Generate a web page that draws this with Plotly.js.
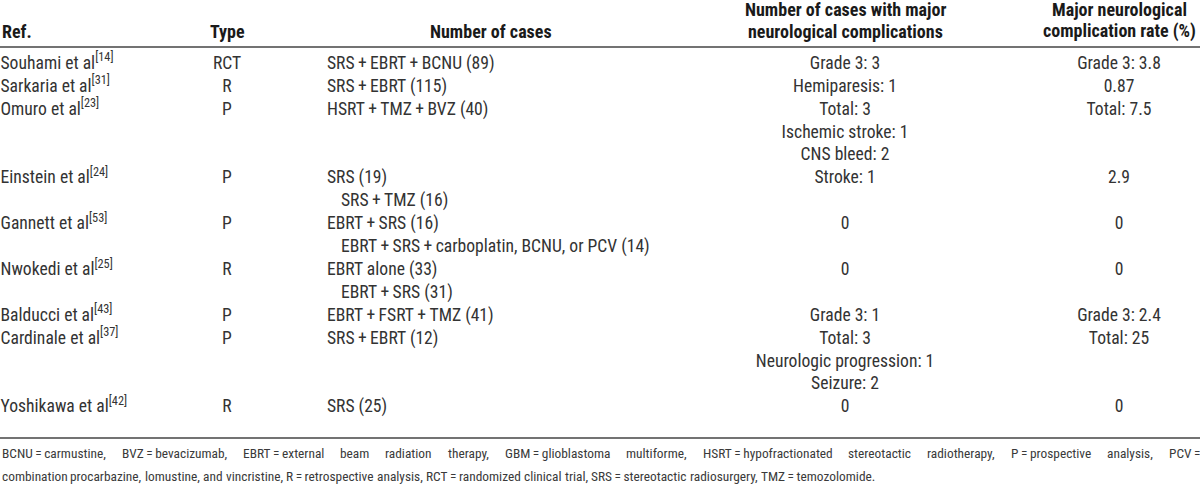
<!DOCTYPE html>
<html><head><meta charset="utf-8">
<script src="https://cdn.plot.ly/plotly-3.0.1.min.js"></script>
<style>html,body{margin:0;padding:0;background:#fff;} #chart{width:1200px;height:489px;}</style>
</head><body><div id="chart"></div>
<script>
// ---------- DATA ----------
const P = "\u2009+\u2009";
const EQ = "\u2009=\u2009";
const headerRef = "Ref.";
const headerType = "Type";
const headerCases = "Number of cases";
const headerComplications = ["Number of cases with major", "neurological complications"];
const headerRate = ["Major neurological", "complication rate (%)"];

const refs = [
  "Souhami et al<sup>[14]</sup>",
  "Sarkaria et al<sup>[31]</sup>",
  "Omuro et al<sup>[23]</sup>",
  "Einstein et al<sup>[24]</sup>",
  "Gannett et al<sup>[53]</sup>",
  "Nwokedi et al<sup>[25]</sup>",
  "Balducci et al<sup>[43]</sup>",
  "Cardinale et al<sup>[37]</sup>",
  "Yoshikawa et al<sup>[42]</sup>"
];
const types = ["RCT", "R", "P", "P", "P", "R", "P", "P", "R"];
const cases = [
  ["SRS" + P + "EBRT" + P + "BCNU (89)"],
  ["SRS" + P + "EBRT (115)"],
  ["HSRT" + P + "TMZ" + P + "BVZ (40)"],
  ["SRS (19)", "SRS" + P + "TMZ (16)"],
  ["EBRT" + P + "SRS (16)", "EBRT" + P + "SRS" + P + "carboplatin, BCNU, or PCV (14)"],
  ["EBRT alone (33)", "EBRT" + P + "SRS (31)"],
  ["EBRT" + P + "FSRT" + P + "TMZ (41)"],
  ["SRS" + P + "EBRT (12)"],
  ["SRS (25)"]
];
const complications = [
  ["Grade 3: 3"],
  ["Hemiparesis: 1"],
  ["Total: 3", "Ischemic stroke: 1", "CNS bleed: 2"],
  ["Stroke: 1"],
  ["0"],
  ["0"],
  ["Grade 3: 1"],
  ["Total: 3", "Neurologic progression: 1", "Seizure: 2"],
  ["0"]
];
const rates = [
  ["Grade 3: 3.8"],
  ["0.87"],
  ["Total: 7.5"],
  ["2.9"],
  ["0"],
  ["0"],
  ["Grade 3: 2.4"],
  ["Total: 25"],
  ["0"]
];
const footnoteLines = [
  "BCNU" + EQ + "carmustine, BVZ" + EQ + "bevacizumab, EBRT" + EQ + "external beam radiation therapy, GBM" + EQ + "glioblastoma multiforme, HSRT" + EQ + "hypofractionated stereotactic radiotherapy, P" + EQ + "prospective analysis, PCV" + "\u2009=",
  "combination procarbazine, lomustine, and vincristine, R" + EQ + "retrospective analysis, RCT" + EQ + "randomized clinical trial, SRS" + EQ + "stereotactic radiosurgery, TMZ" + EQ + "temozolomide."
];

// ---------- FONT SELECTION (narrow regular-weight sans) ----------
const W = 1200, H = 489;
const cv = document.createElement("canvas").getContext("2d");
function measure(text, size, family, weight) {
  cv.font = (weight || "normal") + " " + size + "px " + family;
  return cv.measureText(text).width;
}
function installed(name) {
  const s = "Souhami et al abcdefghijklmnopqrstuvwxyz ABCDEFGHIJKLMNOPQRSTUVWXYZ 0123456789";
  return measure(s, 40, '"' + name + '", monospace') !== measure(s, 40, "monospace") ||
         measure(s, 40, '"' + name + '", serif') !== measure(s, 40, "serif");
}
const candidates = ["Liberation Sans Narrow", "Arial Narrow", "Nimbus Sans Narrow", "Roboto Condensed",
  "Roboto", "Liberation Sans", "DejaVu Sans Condensed", "Inter", "Noto Sans", "DejaVu Sans"];
let best = null;
for (const n of candidates) { if (installed(n)) { best = n; break; } }
const FONT = (best ? '"' + best + '", ' : "") + "sans-serif";
const calib = "EBRT" + P + "SRS" + P + "carboplatin, BCNU, or PCV (14)";
const BODY_SIZE = Math.min(18, 20 * 309 / measure(calib, 20, FONT));
const HEAD_SIZE = Math.min(18, 20 * 216 / measure(headerComplications[0], 20, FONT, "bold"));
const FOOT_SIZE = Math.min(13.5, BODY_SIZE * 0.76);

const BODY_COLOR = "#333333", HEAD_COLOR = "#1a1a1a", FOOT_COLOR = "#3a3a3a";
const LINE0_PX = 64.5, LINE_PX = 22.9;
const toLine = px => (px - LINE0_PX) / LINE_PX;
const X_REF = 0.5, X_TYPE = 227, X_CASES = 327, CASE_INDENT = 14, X_COMP = 845, X_RATE = 1119;
const FOOT_Y = [453, 476], FOOT_END2 = 847;

// row starts in line units
const rowStart = [];
let acc = 0;
for (let i = 0; i < refs.length; i++) {
  rowStart.push(acc);
  acc += Math.max(cases[i].length, complications[i].length, rates[i].length, 1);
}
function flat(col, xFirst, xNext) {
  const xs = [], ys = [], ts = [];
  col.forEach((lines, i) => lines.forEach((t, j) => {
    xs.push(j === 0 ? xFirst : xNext); ys.push(rowStart[i] + j); ts.push(t);
  }));
  return {xs, ys, ts};
}

const bodyFont = {family: FONT, size: BODY_SIZE, color: BODY_COLOR};
const common = {type: "scatter", mode: "text", textfont: bodyFont, cliponaxis: false, hoverinfo: "skip", showlegend: false};
const traces = [];
traces.push(Object.assign({x: refs.map(() => X_REF), y: rowStart, text: refs, textposition: "middle right"}, common));
traces.push(Object.assign({x: types.map(() => X_TYPE), y: rowStart, text: types, textposition: "middle center"}, common));
const c = flat(cases, X_CASES, X_CASES + CASE_INDENT);
traces.push(Object.assign({x: c.xs, y: c.ys, text: c.ts, textposition: "middle right"}, common));
const m = flat(complications, X_COMP, X_COMP);
traces.push(Object.assign({x: m.xs, y: m.ys, text: m.ts, textposition: "middle center"}, common));
const r = flat(rates, X_RATE, X_RATE);
traces.push(Object.assign({x: r.xs, y: r.ys, text: r.ts, textposition: "middle center"}, common));

// ---------- HEADERS ----------
const headFont = {family: FONT, size: HEAD_SIZE, color: HEAD_COLOR, weight: "bold"};
const ann = [];
function A(text, x, ypx, xanchor, font) {
  ann.push({text: text, x: x, y: toLine(ypx), xref: "x", yref: "y", xanchor: xanchor, yanchor: "middle",
    showarrow: false, font: font, borderpad: 0});
  return ann.length - 1;
}
A(headerRef, X_REF, 31, "left", headFont);
A(headerType, X_TYPE, 31, "center", headFont);
A(headerCases, 491, 31, "center", headFont);
A(headerComplications[0], X_COMP, 9.5, "center", headFont);
A(headerComplications[1], X_COMP, 31, "center", headFont);
A(headerRate[0], X_RATE, 9.5, "center", headFont);
A(headerRate[1], X_RATE, 31, "center", headFont);

// ---------- FOOTNOTE (word by word; spacing fixed after render) ----------
const footFont = {family: FONT, size: FOOT_SIZE, color: FOOT_COLOR};
const footIdx = footnoteLines.map((line, li) => {
  let xx = 0.5;
  return line.split(" ").map(w => {
    const k = A(w, xx, FOOT_Y[li], "left", footFont);
    xx += measure(w + " ", FOOT_SIZE, FONT);
    return k;
  });
});

// ---------- RULES ----------
const shapes = [
  {type: "line", xref: "x", yref: "y", x0: 0, x1: W, y0: toLine(47), y1: toLine(47), line: {color: "#444", width: 1.6}},
  {type: "line", xref: "x", yref: "y", x0: 0, x1: W, y0: toLine(438), y1: toLine(438), line: {color: "#444", width: 1.6}}
];

const layout = {
  width: W, height: H, margin: {l: 0, r: 0, t: 0, b: 0, pad: 0},
  paper_bgcolor: "#fff", plot_bgcolor: "#fff",
  xaxis: {range: [0, W], visible: false, showgrid: false, zeroline: false, fixedrange: true},
  yaxis: {range: [toLine(H), toLine(0)], visible: false, showgrid: false, zeroline: false, fixedrange: true},
  annotations: ann, shapes: shapes, showlegend: false, hovermode: false
};
Plotly.newPlot("chart", traces, layout, {displayModeBar: false, staticPlot: true}).then(gd => {
  // measure rendered word widths and spread footnote words (line 1 justified, line 2 to its reference end)
  const width = k => {
    const el = gd.querySelector('.annotation[data-index="' + k + '"] .annotation-text');
    return el ? el.getBBox().width : 0;
  };
  const space = measure(" ", FOOT_SIZE, FONT);
  const ends = [W - 1, FOOT_END2];
  const upd = {};
  footIdx.forEach((ids, li) => {
    const ws = ids.map(width);
    const sum = ws.reduce((a, b) => a + b, 0);
    const g = Math.max(space, (ends[li] - 0.5 - sum) / (ids.length - 1));
    let xx = 0.5;
    ids.forEach((k, i) => { upd["annotations[" + k + "].x"] = xx; xx += ws[i] + g; });
  });
  return Plotly.relayout(gd, upd);
});
</script></body></html>
